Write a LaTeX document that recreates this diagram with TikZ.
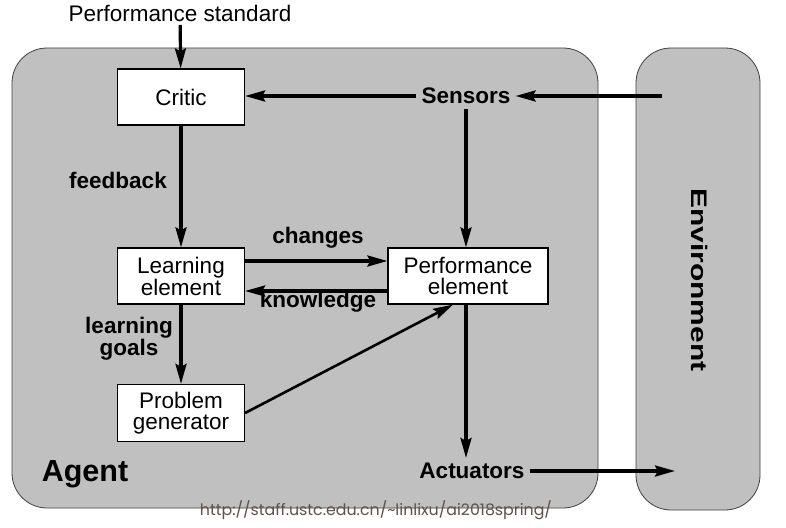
\documentclass[tikz,border=0pt]{standalone}
\usepackage{fontspec}
\usepackage{graphicx}
\setmainfont{Liberation Sans}
\newfontfamily\urlfont{Poppins}
\usetikzlibrary{arrows.meta}
\definecolor{agentgray}{RGB}{192,192,192}
\definecolor{urlcol}{RGB}{96,80,74}
\begin{document}
\begin{tikzpicture}[x=1pt,y=-1pt,
 txt/.style={font=\fontsize{22.5}{20.5}\selectfont, align=center},
 lbl/.style={font=\fontsize{22.5}{21}\selectfont\bfseries, align=center, inner sep=6pt},
 blk/.style={draw=black, line width=1.2pt, fill=white, minimum width=127pt, minimum height=56pt, txt},
 arr/.style={line width=3.2pt, -{Stealth[length=20pt,width=11pt,inset=3pt]}},
 region/.style={fill=agentgray, draw=black!75, line width=0.8pt, rounded corners=35pt}]
\useasboundingbox (0,0) rectangle (786,527);
\fill[white] (0,0) rectangle (786,527);
\path[region] (12,48) rectangle (598,508);
\path[region] (636,48) rectangle (760,510);
\node[blk] (critic) at (181,97) {Critic};
\node[blk] (le) at (181,276) {Learning\\element};
\node[blk, minimum width=160pt] (pe) at (468,276) {Performance\\element};
\node[blk, minimum height=57pt] (pg) at (181,413) {Problem\\generator};
\node[txt] (ps) at (180,13) {Performance standard};
\node[lbl, inner sep=5pt] (sensors) at (466,96) {Sensors};
\node[lbl, inner sep=5pt] (act) at (472,471) {Actuators};
\node[lbl, inner sep=0pt] (fb) at (118,180) {feedback};
\node[lbl, inner sep=0pt] (ch) at (318,238) {changes};
\node[lbl, inner sep=0pt] (kn) at (318,302) {knowledge};
\node[lbl, inner sep=0pt] (lg) at (129,339) {learning\\goals};
\node[font=\fontsize{30.5}{30}\selectfont\bfseries] (agent) at (85,474) {Agent};
\node[font=\fontsize{22.5}{22}\selectfont\bfseries, rotate=-90, xscale=1.33] (env) at (700,280) {Environment};
\coordinate (envs) at (662,96);
\coordinate (enva) at (675,471);
\draw[arr] (ps) -- (critic);
\draw[arr] (envs) -- (sensors);
\draw[arr] (sensors.west) -- (sensors.west -| critic.east);
\draw[arr] (sensors.south) -- (sensors.south |- pe.north);
\draw[arr] (critic) -- (le);
\draw[arr] ([yshift=15pt]le.east) -- ([yshift=15pt]le.east -| pe.west);
\draw[arr] ([yshift=-15pt]pe.west) -- ([yshift=-15pt]pe.west -| le.east);
\draw[arr] (le) -- (pg);
\draw[arr, line width=2.6pt] (pg.east) -- ([xshift=-15pt]pe.south);
\draw[arr] (sensors.south |- pe.south) -- (sensors.south |- act.north);
\draw[arr] (act) -- (enva);
\node[inner sep=0pt, text=urlcol, font=\urlfont] (url) at (376,510) {\resizebox{352pt}{!}{http://staff.ustc.edu.cn/\textasciitilde linlixu/ai2018spring/}};
\end{tikzpicture}
\end{document}
